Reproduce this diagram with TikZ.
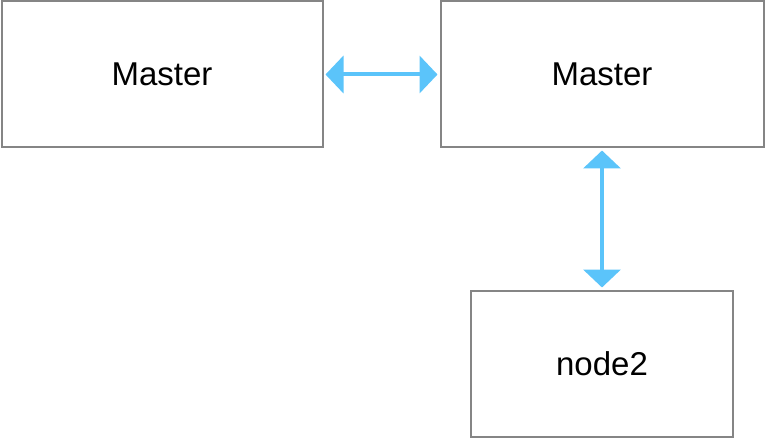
\documentclass[tikz,border=0pt]{standalone}
\usepackage{fontspec}
\setmainfont{Liberation Sans}
\usetikzlibrary{positioning, arrows.meta}
\definecolor{linkblue}{HTML}{5BC4FA}
\definecolor{boxgray}{HTML}{858585}

\begin{document}
\begin{tikzpicture}[x=1pt, y=1pt, font=\fontsize{33}{38}\selectfont]
    \tikzset{
        box/.style={rectangle, draw=boxgray, line width=2pt, fill=white,
                    minimum width=321pt, minimum height=146pt, align=center},
        link/.style={draw=linkblue, line width=4pt,
                     {Triangle[length=18pt, width=37pt]}-{Triangle[length=18pt, width=37pt]},
                     shorten <=2pt, shorten >=2pt}
    }
    \useasboundingbox (0,0) rectangle (766,440);
    \node[box] (master1) at (162,365.5) {Master};
    \node[box, minimum width=323pt, right=116pt of master1] (master2) {Master};
    \node[box, minimum width=262pt, below=141pt of master2] (node2) {node2};
    \draw[link] (master1) -- (master2);
    \draw[link] (master2) -- (node2);
\end{tikzpicture}
\end{document}
